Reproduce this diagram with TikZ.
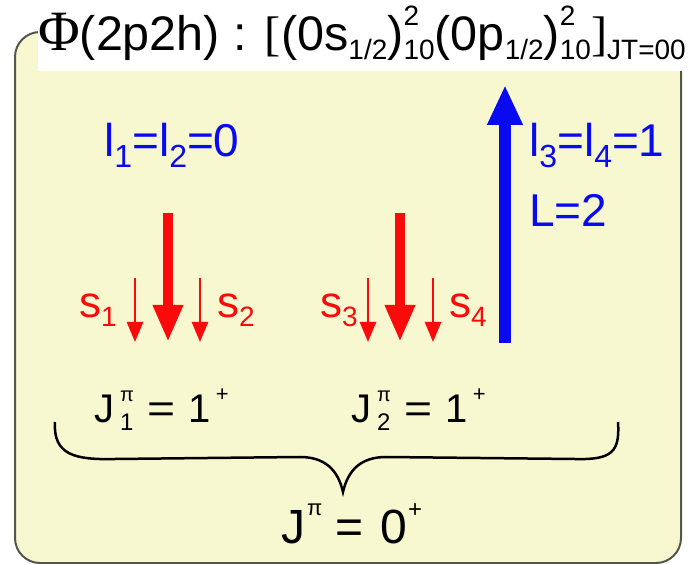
\documentclass[tikz,border=0pt]{standalone}
\usepackage{fontspec}
\setmainfont{Liberation Sans}
\newfontfamily\serifface{Liberation Serif}
\usetikzlibrary{arrows.meta}
\definecolor{boxfill}{RGB}{248,248,208}
\definecolor{boxline}{RGB}{85,85,80}
\definecolor{myblue}{RGB}{10,10,240}
\definecolor{myred}{RGB}{250,10,10}
\newcommand{\fsz}[1]{\fontsize{#1}{#1}\selectfont}
\newcommand{\tsub}[1]{\raisebox{-9pt}{\fsz{28}#1}}
\newcommand{\tsupsub}[2]{\rlap{\raisebox{25pt}{\fsz{28}#1}}\raisebox{-9pt}{\fsz{28}#2}}
\newcommand{\lsub}[1]{\raisebox{-11pt}{\fsz{32}#1}}
\newcommand{\ssub}[1]{\raisebox{-9pt}{\fsz{28}#1}}
\tikzset{
  bigred/.style={myred, line width=10pt, -{Triangle[length=37pt,width=28pt]}},
  smallred/.style={myred, line width=2.5pt, -{Triangle[length=20pt,width=16pt]}},
  bigblue/.style={myblue, line width=12pt, -{Triangle[length=40pt,width=33pt]}},
  bluetxt/.style={myblue, inner sep=0pt, anchor=base west, font=\fsz{46}},
  redtxt/.style={myred, inner sep=0pt, anchor=base west, font=\fsz{44}},
  jtxt/.style={black, inner sep=0pt, anchor=base west},
}
\begin{document}
\begin{tikzpicture}[x=1pt,y=-1pt]
\useasboundingbox (0,0) rectangle (689,564);
% box
\draw[boxline, line width=2pt, fill=boxfill, rounded corners=25pt] (15,32) rectangle (681,563);
% title background
\fill[white] (38,0) rectangle (689,71);
\node[inner sep=0pt, anchor=base west] (title) at (38,51)
  {{\serifface\fsz{57}Φ}\fsz{48.5}(2p2h) : {\serifface[}(0s\tsub{1/2})\tsupsub{2}{10}(0p\tsub{1/2})\tsupsub{2}{10}{\serifface]}\tsub{JT=00}};
% red arrows group 1
\coordinate (a1t) at (168,213); \coordinate (a1b) at (168,342);
\coordinate (s1t) at (135,278); \coordinate (s1b) at (135,342);
\coordinate (s2t) at (200,278); \coordinate (s2b) at (200,342);
\draw[bigred] (a1t) -- (a1b);
\draw[smallred] (s1t) -- (s1b);
\draw[smallred] (s2t) -- (s2b);
% red arrows group 2
\coordinate (a2t) at (400,213); \coordinate (a2b) at (400,342);
\coordinate (s3t) at (368,278); \coordinate (s3b) at (368,342);
\coordinate (s4t) at (433,278); \coordinate (s4b) at (433,342);
\draw[bigred] (a2t) -- (a2b);
\draw[smallred] (s3t) -- (s3b);
\draw[smallred] (s4t) -- (s4b);
% blue arrow
\coordinate (bb) at (505,343); \coordinate (bt) at (505,85);
\draw[bigblue] (bb) -- (bt);
% labels
\node[bluetxt] (l12) at (104,157) {l\lsub{1}=l\lsub{2}=0};
\node[bluetxt] (l34) at (529,157) {l\lsub{3}=l\lsub{4}=1};
\node[bluetxt] (L) at (529,227) {L=2};
\node[redtxt] (ls1) at (79,318) {s\ssub{1}};
\node[redtxt] (ls2) at (217,318) {s\ssub{2}};
\node[redtxt] (ls3) at (320,318) {s\ssub{3}};
\node[redtxt] (ls4) at (449,318) {s\ssub{4}};
% J labels
\node[jtxt, font=\fsz{40}] (j1) at (94,423)
  {J\hspace{6pt}\rlap{\raisebox{21pt}{\fsz{20}π}}\raisebox{-8pt}{\fsz{24}1}\hspace{14pt}\scalebox{1.2}[1]{=}\hspace{13pt}1\hspace{5pt}\raisebox{21pt}{\fsz{22}+}};
\node[jtxt, font=\fsz{40}] (j2) at (351,423)
  {J\hspace{6pt}\rlap{\raisebox{21pt}{\fsz{20}π}}\raisebox{-8pt}{\fsz{24}2}\hspace{14pt}\scalebox{1.2}[1]{=}\hspace{13pt}1\hspace{5pt}\raisebox{21pt}{\fsz{22}+}};
\node[jtxt, font=\fsz{48}] (j0) at (281,543)
  {J\hspace{2pt}\raisebox{28pt}{\fsz{22}π}\hspace{13pt}=\hspace{17pt}0\hspace{1pt}\raisebox{26pt}{\fsz{24}+}};
% brace
\draw[black, line width=2.5pt] (55,422) .. controls (53,455) and (75,460) .. (115,459) -- (300,457) .. controls (325,457) and (338,470) .. (343,492) .. controls (348,470) and (361,457) .. (386,457) -- (575,459) .. controls (612,460) and (620,452) .. (618,422);
\end{tikzpicture}
\end{document}
